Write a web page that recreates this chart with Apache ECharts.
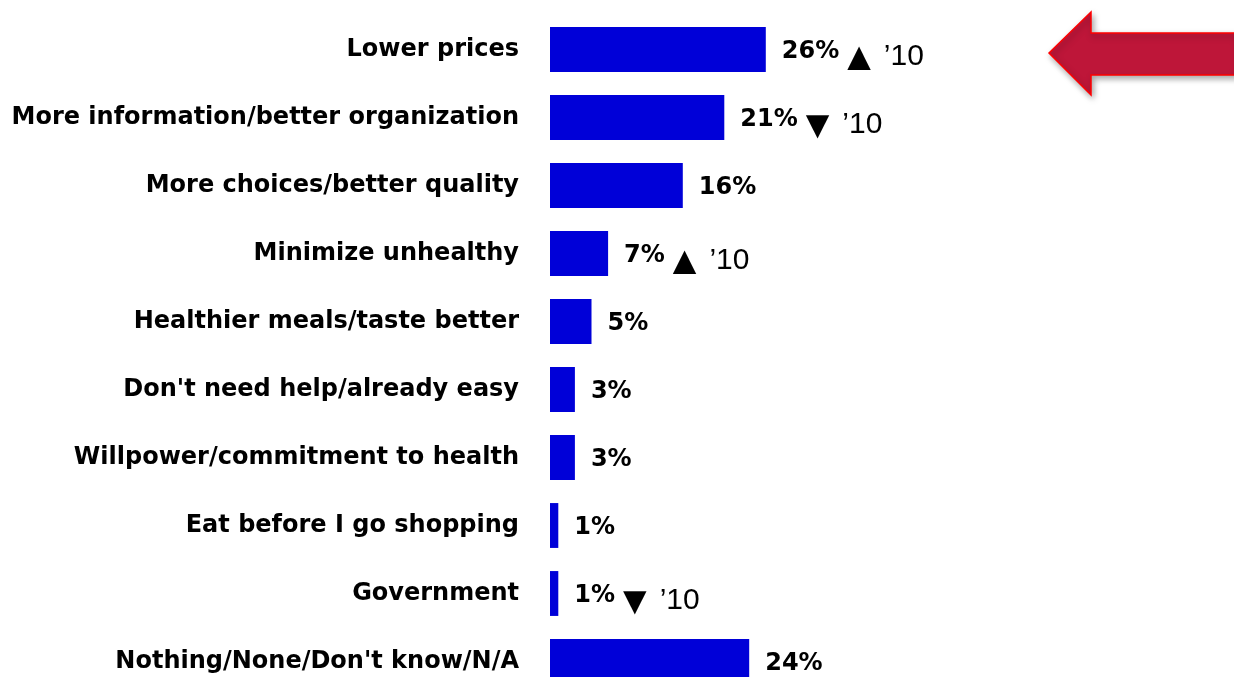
<!DOCTYPE html>
<html><head><meta charset="utf-8">
<script src="https://cdn.jsdelivr.net/npm/echarts@6/dist/echarts.min.js"></script>
<style>html,body{margin:0;padding:0;background:#fff}#c{width:1234px;height:677px}</style>
</head><body><div id="c"></div>
<script>
const categories = ["Lower prices","More information/better organization","More choices/better quality","Minimize unhealthy","Healthier meals/taste better","Don't need help/already easy","Willpower/commitment to health","Eat before I go shopping","Government","Nothing/None/Don't know/N/A"];
const values = [26,21,16,7,5,3,3,1,1,24];
const trends = ["up","down","","up","","","","","down",""];
const trendYear = "\u2019" + "10";

const chart = echarts.init(document.getElementById('c'));
chart.setOption({
  animation:false,
  grid:{left:550, top:15.5, width:664, height:680, containLabel:false, outerBoundsMode:'none'},
  xAxis:{type:'value', min:0, max:80, show:false},
  yAxis:{type:'category', data:categories, inverse:true,
    axisLine:{show:false}, axisTick:{show:false},
    axisLabel:{margin:31, color:'#000', fontFamily:'DejaVu Sans', fontWeight:'bold', fontSize:24}},
  series:[{type:'bar', data:values, barCategoryGap:'34%',
    itemStyle:{color:'#0000D8'},
    label:{show:true, position:'right', distance:16, color:'#000',
      formatter:function(p){
        const t = trends[p.dataIndex];
        let s = '{v|'+p.value+'%}';
        if(t==='up') s += '{a|\u25B2}{g|}{y|'+trendYear+'}';
        if(t==='down') s += '{a|\u25BC}{g|}{y|'+trendYear+'}';
        return s;
      },
      rich:{
        v:{fontFamily:'DejaVu Sans', fontWeight:'bold', fontSize:24, color:'#000', padding:[4,0,0,0]},
        a:{fontFamily:'Liberation Sans', fontSize:40, color:'#000', padding:[18,0,0,0]},
        g:{width:5},
        y:{fontFamily:'Liberation Sans', fontSize:30, color:'#000', padding:[14,0,0,0]}
      }
    }
  }],
  graphic:[{type:'polygon', shape:{points:[[1049,53],[1091,12],[1091,33],[1236,33],[1236,75],[1091,75],[1091,95]]},
    style:{fill:'#BE1639', stroke:'#FF0000', lineWidth:1.5, shadowBlur:6, shadowColor:'rgba(0,0,0,0.35)', shadowOffsetX:2, shadowOffsetY:3}}]
});
</script></body></html>
